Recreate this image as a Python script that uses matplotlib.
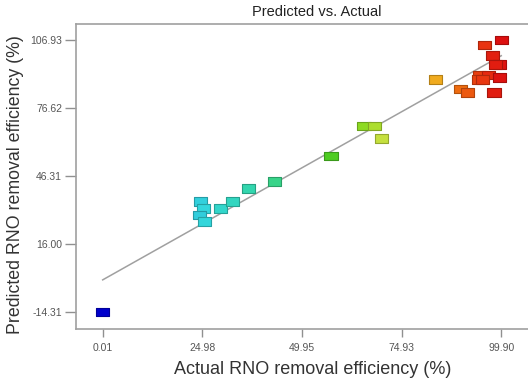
import matplotlib
matplotlib.use("Agg")
import matplotlib.pyplot as plt
import numpy as np
from matplotlib.colors import LinearSegmentedColormap

actual = [0.01, 24.57, 25.22, 24.15, 25.47, 29.48, 32.42, 36.6, 43.02, 57.23,
          65.5, 68.18, 69.83, 83.47, 89.74, 91.49, 95.65, 99.9, 97.75, 99.4,
          98.4, 94.4, 96.65, 94.14, 95.15, 99.58, 98.08]
predicted = [-14.31, 34.84, 31.9, 28.9, 25.93, 31.9, 34.84, 40.8, 43.75, 55.2,
             68.6, 68.6, 63.1, 89.4, 85.1, 83.4, 104.67, 106.93, 99.9, 96.1,
             96.1, 91.3, 91.3, 89.3, 89.3, 90.1, 83.4]
xticks = [0.01, 24.98, 49.95, 74.93, 99.90]
yticks = [-14.31, 16.00, 46.31, 76.62, 106.93]
line_x = [0.01, 99.90]

plt.rcParams['font.family'] = ['Liberation Sans', 'DejaVu Sans']

cmap = LinearSegmentedColormap.from_list('de', [
    (0.0, '#0000cc'),
    (0.25, '#33d6dd'),
    (0.40, '#33d6a0'),
    (0.57, '#4ccc22'),
    (0.67, '#99dd22'),
    (0.70, '#c8e040'),
    (0.83, '#f0b020'),
    (0.90, '#ee6a10'),
    (0.96, '#e83010'),
    (1.0, '#dd1010'),
])

fig = plt.figure(figsize=(5.28, 3.83), dpi=100)
ax = fig.add_axes([76/528, 1-329/383, 1-76/528, (329-24)/383])

x0, px0, sx = 0.01, 102.7, 3.99
y0, py0, sy = -14.31, 312.0, 2.244
ax.set_xlim(x0 - (px0-76)/sx, x0 + (528-px0)/sx)
ax.set_ylim(y0 - (329-py0)/sy, y0 + (py0-24)/sy)

ax.plot(line_x, line_x, color='#a0a0a0', lw=1.1, zorder=1)

norm = plt.Normalize(0, 100)
cols = cmap(norm(np.array(actual)))
edge = cols.copy()
edge[:, :3] *= 0.75
rect = [(-1.5, -1), (1.5, -1), (1.5, 1), (-1.5, 1), (-1.5, -1)]
ax.scatter(actual, predicted, s=88, marker=rect, c=cols, edgecolors=edge,
           linewidths=0.8, zorder=3)

ax.set_xticks(xticks)
ax.set_xticklabels([f"{v:.2f}" for v in xticks])
ax.set_yticks(yticks)
ax.set_yticklabels([f"{v:.2f}" for v in yticks])
ax.tick_params(axis='x', length=6, width=1, color='#909090', labelsize=7.5,
               labelcolor='#555555', pad=4)
ax.tick_params(axis='y', length=8, width=1, color='#909090', labelsize=7.5,
               labelcolor='#555555', pad=2)
for s in ['left', 'bottom', 'top']:
    ax.spines[s].set_color('#a0a0a0')
    ax.spines[s].set_linewidth(1.2)
ax.spines['right'].set_visible(False)

ax.set_xlabel('Actual RNO removal efficiency (%)', fontsize=13, color='#333333')
ax.xaxis.set_label_coords((313-76)/(528-76), -(370-329)/(329-24), transform=ax.transAxes)
ax.xaxis.label.set_verticalalignment('center')
ax.set_ylabel('Predicted RNO removal efficiency (%)', fontsize=12.8, color='#333333')
ax.yaxis.set_label_coords(-(76-16)/(528-76), (329-185)/(329-24), transform=ax.transAxes)
ax.yaxis.label.set_verticalalignment('center')

fig.text(317/528, 1-12/383, 'Predicted vs. Actual', ha='center', va='center',
         fontsize=10.5, color='#222222')

fig.savefig('out.png', dpi=100)
